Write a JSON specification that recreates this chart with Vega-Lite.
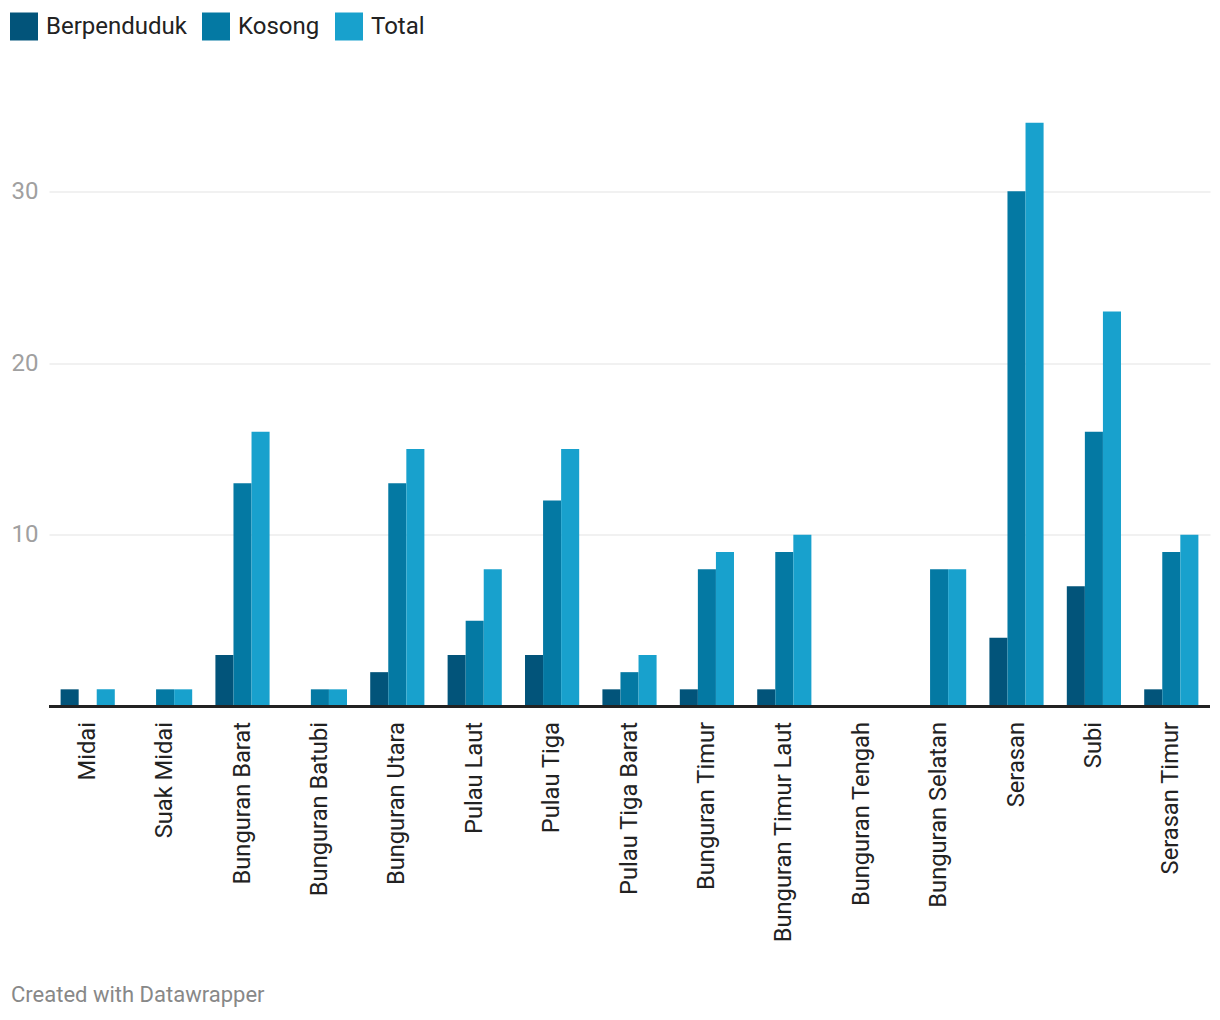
{
  "$schema": "https://vega.github.io/schema/vega-lite/v6.json",
  "width": 1161,
  "height": 601,
  "autosize": {"type": "none"},
  "padding": {"left": 49, "top": 105.5, "right": 10, "bottom": 313.5},
  "background": "white",
  "config": {"font": "Roboto", "view": {"stroke": null}},
  "title": {
    "text": "Created with Datawrapper",
    "orient": "bottom",
    "anchor": "start",
    "frame": "group",
    "fontSize": 22,
    "fontWeight": "normal",
    "color": "#888888",
    "offset": 43,
    "dx": -38
  },
  "data": {
    "values": [
      {"kecamatan": "Midai", "seri": "Berpenduduk", "nilai": 1},
      {"kecamatan": "Midai", "seri": "Kosong", "nilai": 0},
      {"kecamatan": "Midai", "seri": "Total", "nilai": 1},
      {"kecamatan": "Suak Midai", "seri": "Berpenduduk", "nilai": 0},
      {"kecamatan": "Suak Midai", "seri": "Kosong", "nilai": 1},
      {"kecamatan": "Suak Midai", "seri": "Total", "nilai": 1},
      {"kecamatan": "Bunguran Barat", "seri": "Berpenduduk", "nilai": 3},
      {"kecamatan": "Bunguran Barat", "seri": "Kosong", "nilai": 13},
      {"kecamatan": "Bunguran Barat", "seri": "Total", "nilai": 16},
      {"kecamatan": "Bunguran Batubi", "seri": "Berpenduduk", "nilai": 0},
      {"kecamatan": "Bunguran Batubi", "seri": "Kosong", "nilai": 1},
      {"kecamatan": "Bunguran Batubi", "seri": "Total", "nilai": 1},
      {"kecamatan": "Bunguran Utara", "seri": "Berpenduduk", "nilai": 2},
      {"kecamatan": "Bunguran Utara", "seri": "Kosong", "nilai": 13},
      {"kecamatan": "Bunguran Utara", "seri": "Total", "nilai": 15},
      {"kecamatan": "Pulau Laut", "seri": "Berpenduduk", "nilai": 3},
      {"kecamatan": "Pulau Laut", "seri": "Kosong", "nilai": 5},
      {"kecamatan": "Pulau Laut", "seri": "Total", "nilai": 8},
      {"kecamatan": "Pulau Tiga", "seri": "Berpenduduk", "nilai": 3},
      {"kecamatan": "Pulau Tiga", "seri": "Kosong", "nilai": 12},
      {"kecamatan": "Pulau Tiga", "seri": "Total", "nilai": 15},
      {"kecamatan": "Pulau Tiga Barat", "seri": "Berpenduduk", "nilai": 1},
      {"kecamatan": "Pulau Tiga Barat", "seri": "Kosong", "nilai": 2},
      {"kecamatan": "Pulau Tiga Barat", "seri": "Total", "nilai": 3},
      {"kecamatan": "Bunguran Timur", "seri": "Berpenduduk", "nilai": 1},
      {"kecamatan": "Bunguran Timur", "seri": "Kosong", "nilai": 8},
      {"kecamatan": "Bunguran Timur", "seri": "Total", "nilai": 9},
      {"kecamatan": "Bunguran Timur Laut", "seri": "Berpenduduk", "nilai": 1},
      {"kecamatan": "Bunguran Timur Laut", "seri": "Kosong", "nilai": 9},
      {"kecamatan": "Bunguran Timur Laut", "seri": "Total", "nilai": 10},
      {"kecamatan": "Bunguran Tengah", "seri": "Berpenduduk", "nilai": 0},
      {"kecamatan": "Bunguran Tengah", "seri": "Kosong", "nilai": 0},
      {"kecamatan": "Bunguran Tengah", "seri": "Total", "nilai": 0},
      {"kecamatan": "Bunguran Selatan", "seri": "Berpenduduk", "nilai": 0},
      {"kecamatan": "Bunguran Selatan", "seri": "Kosong", "nilai": 8},
      {"kecamatan": "Bunguran Selatan", "seri": "Total", "nilai": 8},
      {"kecamatan": "Serasan", "seri": "Berpenduduk", "nilai": 4},
      {"kecamatan": "Serasan", "seri": "Kosong", "nilai": 30},
      {"kecamatan": "Serasan", "seri": "Total", "nilai": 34},
      {"kecamatan": "Subi", "seri": "Berpenduduk", "nilai": 7},
      {"kecamatan": "Subi", "seri": "Kosong", "nilai": 16},
      {"kecamatan": "Subi", "seri": "Total", "nilai": 23},
      {"kecamatan": "Serasan Timur", "seri": "Berpenduduk", "nilai": 1},
      {"kecamatan": "Serasan Timur", "seri": "Kosong", "nilai": 9},
      {"kecamatan": "Serasan Timur", "seri": "Total", "nilai": 10}
    ]
  },
  "layer": [
    {
      "mark": {"type": "bar"},
      "encoding": {
        "x": {
          "field": "kecamatan",
          "type": "nominal",
          "sort": null,
          "scale": {"paddingInner": 0.3, "paddingOuter": 0.15},
          "axis": {
            "title": null,
            "labelAngle": -90,
            "labelAlign": "right",
            "labelBaseline": "middle",
            "labelPadding": 15,
            "labelFontSize": 23.7,
            "labelColor": "#222222",
            "labelLimit": 400,
            "ticks": false,
            "tickSize": 0,
            "domain": false,
            "grid": false
          }
        },
        "xOffset": {
          "field": "seri",
          "type": "nominal",
          "sort": ["Berpenduduk", "Kosong", "Total"],
          "scale": {"paddingInner": 0, "paddingOuter": 0}
        },
        "y": {
          "field": "nilai",
          "type": "quantitative",
          "scale": {"domain": [0, 35], "nice": false},
          "axis": {
            "title": null,
            "values": [10, 20, 30],
            "domain": false,
            "ticks": false,
            "tickSize": 0,
            "labelAlign": "left",
            "labelBaseline": "middle",
            "labelPadding": 38,
            "labelFontSize": 24,
            "labelColor": "#a0a0a0",
            "grid": true,
            "gridColor": "#e3e3e3",
            "gridWidth": 1.2
          }
        },
        "color": {
          "field": "seri",
          "type": "nominal",
          "sort": ["Berpenduduk", "Kosong", "Total"],
          "scale": {
            "domain": ["Berpenduduk", "Kosong", "Total"],
            "range": ["#02547a", "#0479a3", "#18a1cd"]
          },
          "legend": {
            "title": null,
            "orient": "none",
            "legendX": -39,
            "legendY": -93,
            "direction": "horizontal",
            "symbolType": "square",
            "symbolSize": 784,
            "symbolStrokeWidth": 0,
            "labelFontSize": 24,
            "labelColor": "#222222",
            "labelOffset": 8,
            "columnPadding": 15,
            "padding": 0
          }
        }
      }
    },
    {
      "mark": {"type": "rule", "color": "#222222", "strokeWidth": 2},
      "encoding": {"y": {"datum": 0}}
    }
  ]
}
